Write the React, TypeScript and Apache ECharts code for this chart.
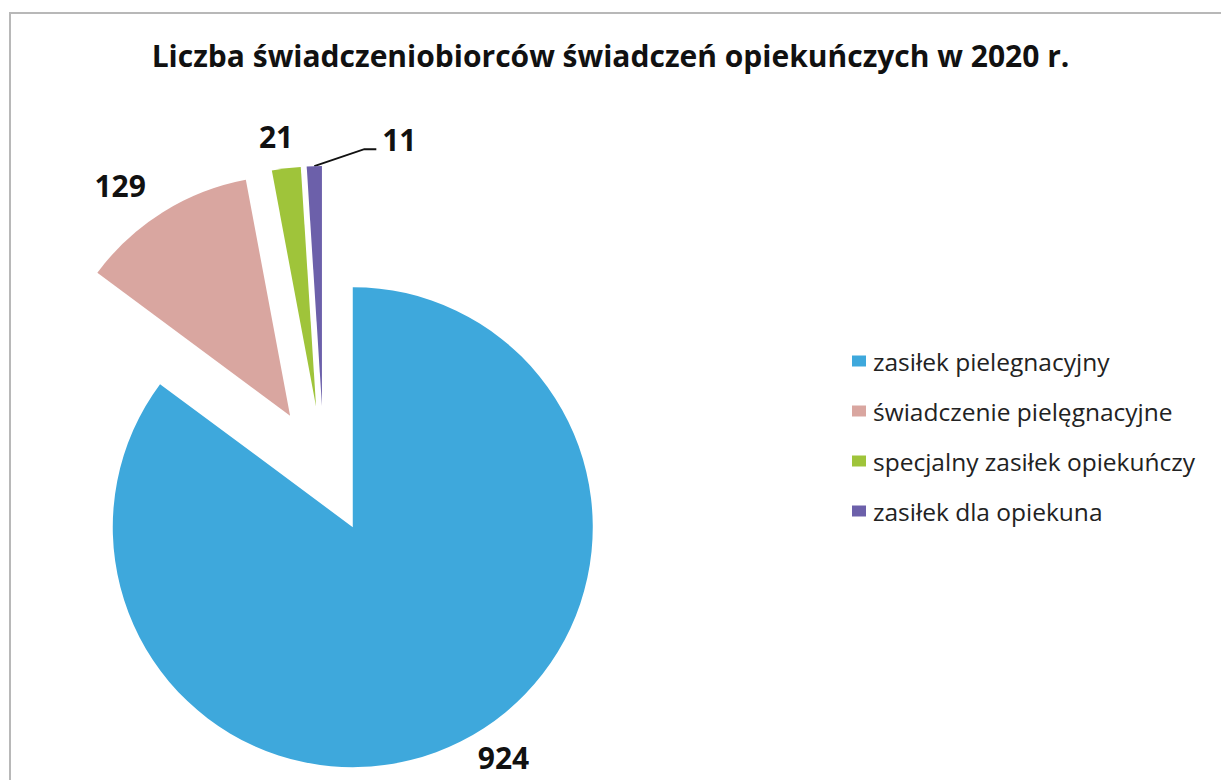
import React, { useEffect, useRef } from 'react';
import * as echarts from 'echarts';

const chartTitle = 'Liczba świadczeniobiorców świadczeń opiekuńczych w 2020 r.';
const categories = [
  'zasiłek pielegnacyjny',
  'świadczenie pielęgnacyjne',
  'specjalny zasiłek opiekuńczy',
  'zasiłek dla opiekuna',
];
const values = [924, 129, 21, 11];
const colors = ['#3ea8dc', '#d9a6a0', '#9fc43a', '#6c60aa'];
// per-slice label tuning (styling only)
const labelLineLengths = [18, 32, 32, 27];
const labelDistances = [9, 0, -11, -103];

export default function App() {
  const ref = useRef<HTMLDivElement>(null);
  useEffect(() => {
    const chart = echarts.init(ref.current!, null, { renderer: 'svg' });
    chart.setOption({
      animation: false,
      color: colors,
      title: {
        text: chartTitle,
        left: 'center',
        top: 35,
        textStyle: { fontFamily: 'Open Sans', fontWeight: 'bold', fontSize: 30, color: '#111' },
      },
      legend: {
        orient: 'vertical',
        left: 847,
        top: 342,
        icon: 'rect',
        itemWidth: 14,
        itemHeight: 11,
        itemGap: 22,
        selectedMode: false,
        data: categories,
        textStyle: { fontFamily: 'Open Sans', fontSize: 24.5, color: '#222', lineHeight: 28, padding: [0, 0, 0, 2] },
      },
      graphic: [
        {
          type: 'rect',
          silent: true,
          shape: { x: 10, y: 13, width: 1400, height: 1000 },
          style: { fill: 'none', stroke: '#b8b8b8', lineWidth: 2 },
        },
      ],
      series: [
        {
          type: 'pie',
          center: [324, 470],
          radius: 240,
          startAngle: 90,
          clockwise: true,
          selectedMode: 'multiple',
          selectedOffset: 64,
          avoidLabelOverlap: false,
          emphasis: { disabled: true },
          label: {
            show: true,
            position: 'outside',
            formatter: '{c}',
            fontFamily: 'Open Sans',
            fontWeight: 'bold',
            fontSize: 30,
            lineHeight: 30,
            color: '#111',
          },
          labelLine: { show: false, length2: 0 },
          data: values.map((v, i) => ({
            name: categories[i],
            value: v,
            selected: true,
            label: { distanceToLabelLine: labelDistances[i] },
            labelLine: {
              show: i === 3,
              length: labelLineLengths[i],
              length2: 0,
              lineStyle: { color: '#111', width: 2 },
            },
          })),
          labelLayout: (p: any) => {
            if (p.dataIndex !== 3 || !p.labelLinePoints) return {};
            const a = p.labelLinePoints[0];
            return {
              labelLinePoints: [a, [a[0] + 50, a[1] - 17], [a[0] + 62, a[1] - 17]],
            };
          },
        },
      ],
    });
    return () => chart.dispose();
  }, []);
  return <div ref={ref} style={{ position: 'fixed', left: 0, top: 0, width: 1221, height: 780, background: '#fff' }} />;
}
